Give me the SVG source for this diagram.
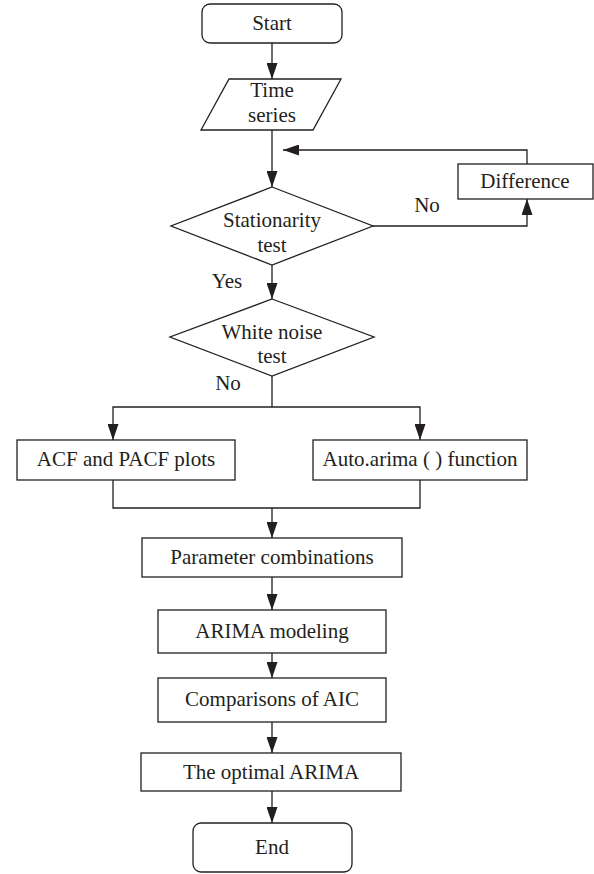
<svg xmlns="http://www.w3.org/2000/svg" width="594" height="874" viewBox="0 0 594 874">
<style>
.s{fill:#fff;stroke:#231f20;stroke-width:1.3}
.c{fill:none;stroke:#231f20;stroke-width:1.3}
text{font-family:"Liberation Serif","Times New Roman",serif;font-size:21px;fill:#231f20;text-anchor:middle}
</style>
<defs>
<marker id="ah" markerUnits="userSpaceOnUse" markerWidth="16" markerHeight="11" refX="16" refY="5.5" orient="auto">
<path d="M0,0 L16,5.5 L0,11 z" fill="#231f20"/>
</marker>
</defs>
<rect width="594" height="874" fill="#fff"/>
<g id="connectors">
<path class="c" d="M272,43 V79" marker-end="url(#ah)"/>
<path class="c" d="M272,130 V187" marker-end="url(#ah)"/>
<path class="c" d="M373,226 H527 V199" marker-end="url(#ah)"/>
<path class="c" d="M527,164 V150 H283" marker-end="url(#ah)"/>
<path class="c" d="M272,265 V299" marker-end="url(#ah)"/>
<path class="c" d="M272,376 V407"/>
<path class="c" d="M272,407 H113 V440" marker-end="url(#ah)"/>
<path class="c" d="M272,407 H420 V440" marker-end="url(#ah)"/>
<path class="c" d="M113,480 V508 H420 V480"/>
<path class="c" d="M272,508 V538" marker-end="url(#ah)"/>
<path class="c" d="M272,577 V610" marker-end="url(#ah)"/>
<path class="c" d="M272,653 V678" marker-end="url(#ah)"/>
<path class="c" d="M272,722 V753" marker-end="url(#ah)"/>
<path class="c" d="M272,791 V823" marker-end="url(#ah)"/>
<text x="427" y="212">No</text>
<text x="227" y="288">Yes</text>
<text x="228" y="390">No</text>
</g>
<g id="start">
<rect class="s" x="202" y="4" width="140" height="39" rx="8"/>
<text x="272" y="30">Start</text>
</g>
<g id="timeseries">
<polygon class="s" points="229,79 341,79 313,130 201,130"/>
<text x="272" y="97">Time</text>
<text x="272" y="122">series</text>
</g>
<g id="stationarity">
<polygon class="s" points="272,187 373,226 272,265 171,226"/>
<text x="272" y="227">Stationarity</text>
<text x="272" y="252">test</text>
</g>
<g id="difference">
<rect class="s" x="458" y="164" width="135" height="35"/>
<text x="525" y="188">Difference</text>
</g>
<g id="whitenoise">
<polygon class="s" points="272,299 374,337 272,376 170,337"/>
<text x="272" y="339">White noise</text>
<text x="272" y="363">test</text>
</g>
<g id="acf">
<rect class="s" x="17" y="440" width="218" height="40"/>
<text x="126" y="466">ACF and PACF plots</text>
</g>
<g id="autoarima">
<rect class="s" x="313" y="440" width="214" height="40"/>
<text x="420" y="466">Auto.arima ( ) function</text>
</g>
<g id="params">
<rect class="s" x="142" y="538" width="260" height="39"/>
<text x="272" y="564">Parameter combinations</text>
</g>
<g id="modeling">
<rect class="s" x="158" y="610" width="228" height="43"/>
<text x="272" y="638">ARIMA modeling</text>
</g>
<g id="aic">
<rect class="s" x="158" y="678" width="228" height="44"/>
<text x="272" y="706">Comparisons of AIC</text>
</g>
<g id="optimal">
<rect class="s" x="141" y="753" width="260" height="38"/>
<text x="271" y="779">The optimal ARIMA</text>
</g>
<g id="end">
<rect class="s" x="193" y="823" width="159" height="49" rx="8"/>
<text x="272" y="854">End</text>
</g>
</svg>
